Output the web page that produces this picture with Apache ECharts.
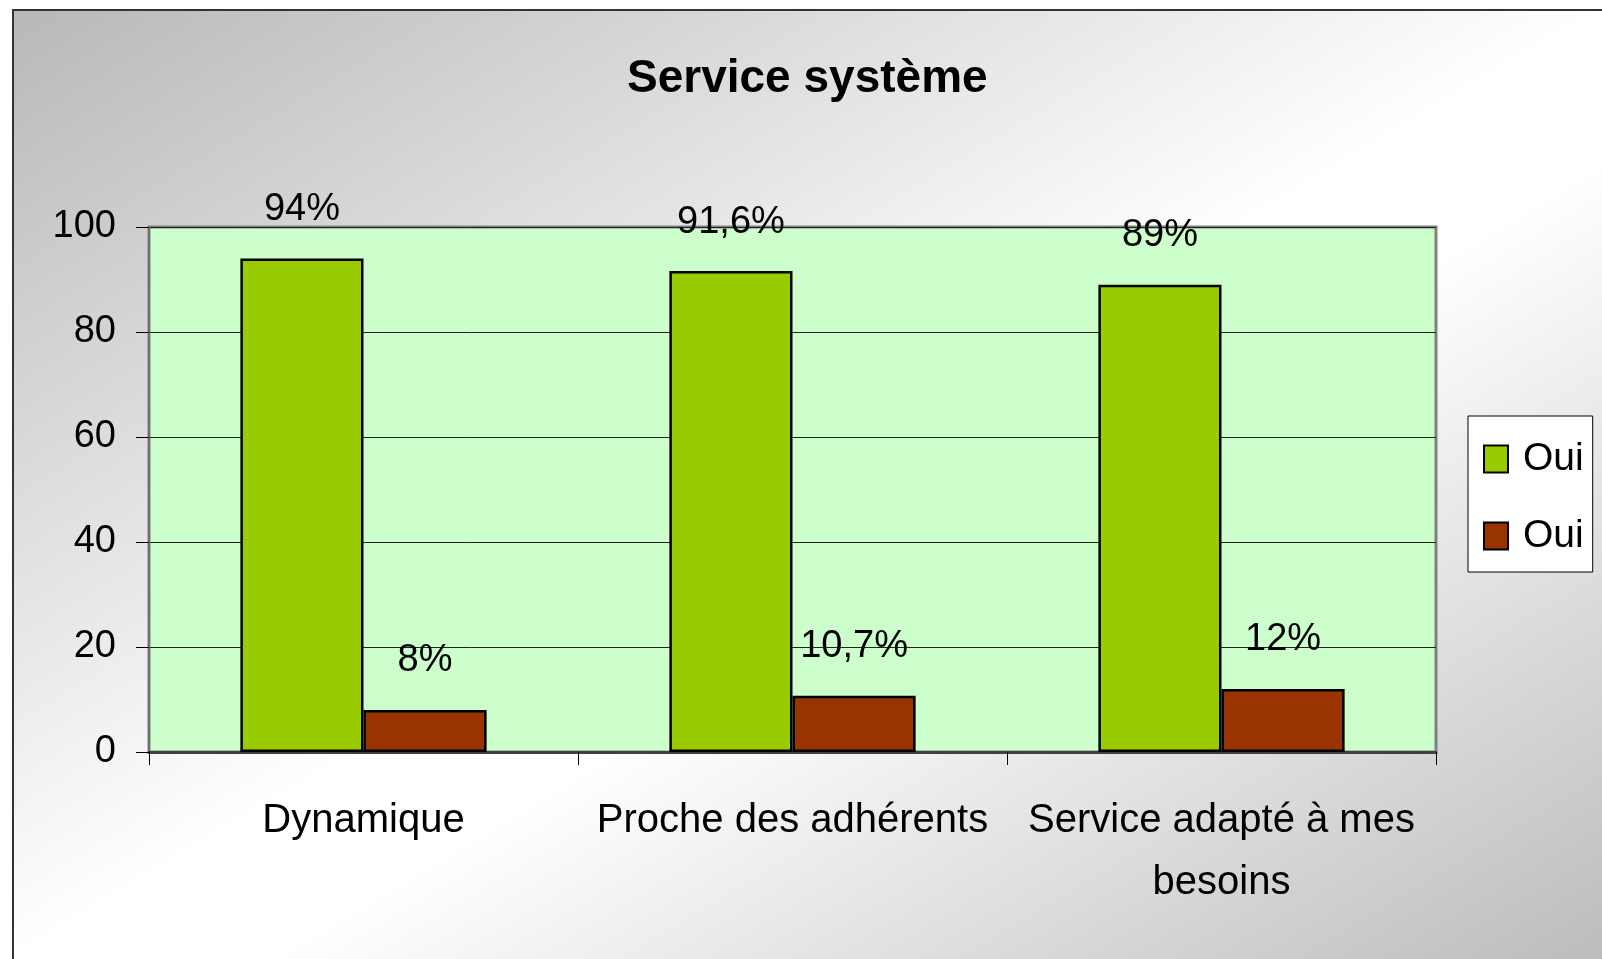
<!DOCTYPE html>
<html>
<head>
<meta charset="utf-8">
<script src="https://cdn.jsdelivr.net/npm/echarts@6/dist/echarts.min.js"></script>
<style>
html, body {
  margin: 0;
  padding: 0;
  background: #fff;
  width: 1602px;
  height: 959px;
  overflow: hidden;
}
#frame {
  position: absolute;
  left: 12px;
  top: 9px;
  right: 0;
  bottom: 0;
  border-left: 2px solid #333;
  border-top: 2px solid #333;
  background: linear-gradient(to bottom right, #b8b8b8 0%, #ffffff 50%, #ffffff 58%, #bcbcbc 100%);
}
#myChart {
  position: absolute;
  left: 0;
  top: 0;
  width: 1602px;
  height: 959px;
}
</style>
</head>
<body>
<div id="frame"></div>
<div id="myChart"></div>
<script>
// données
const categories = ['Dynamique', 'Proche des adhérents', 'Service adapté à mes\nbesoins']
const greenValues = [94, 91.6, 89]
const redValues = [8, 10.7, 12]
const yTicks = [0, 20, 40, 60, 80, 100]

const font = "'Liberation Sans', Arial, sans-serif"

function pct(p) {
  return String(p.value).replace('.', ',') + '%'
}

let myChart = echarts.init(document.getElementById('myChart'))
myChart.setOption({
  animation: false,
  textStyle: { fontFamily: font },
  title: {
    text: 'Service système',
    left: 627,
    top: 54,
    padding: 0,
    textStyle: { fontSize: 46, fontWeight: 'bold', color: '#000', fontFamily: font, lineHeight: 50 }
  },
  legend: {
    orient: 'vertical',
    left: 1468,
    top: 416,
    padding: [21, 9, 14, 15],
    itemGap: 33,
    itemWidth: 24,
    itemHeight: 27,
    icon: 'rect',
    backgroundColor: '#fff',
    borderColor: '#000',
    borderWidth: 1,
    formatter: name => name.trim(),
    textStyle: { fontSize: 39, lineHeight: 44, color: '#000', fontFamily: font, padding: [0, 0, 0, 10] }
  },
  grid: {
    left: 149,
    top: 227,
    right: 166,
    bottom: 207,
    show: true,
    backgroundColor: '#CCFFCC',
    borderColor: '#808080',
    borderWidth: 3
  },
  xAxis: {
    type: 'category',
    data: categories,
    axisLine: { lineStyle: { color: '#404040', width: 3 } },
    axisTick: { show: true, length: 13, alignWithLabel: false, lineStyle: { color: '#000' } },
    axisLabel: { fontSize: 40, lineHeight: 62, margin: 38, color: '#000', fontFamily: font, interval: 0 }
  },
  yAxis: {
    type: 'value',
    min: yTicks[0],
    max: yTicks[yTicks.length - 1],
    interval: 20,
    axisLine: { show: true, lineStyle: { color: '#707070', width: 2 } },
    axisTick: { show: true, length: 13, lineStyle: { color: '#000' } },
    axisLabel: { fontSize: 38, margin: 33, color: '#000', fontFamily: font },
    splitLine: { lineStyle: { color: '#222', width: 1 } }
  },
  series: [
    {
      name: 'Oui',
      type: 'bar',
      data: greenValues,
      barGap: '0%',
      barCategoryGap: '42.6%',
      itemStyle: { color: '#99CC00', borderColor: '#000', borderWidth: 2.5 },
      label: { show: true, position: 'top', distance: 29, fontSize: 38, lineHeight: 40, color: '#000', fontFamily: font, formatter: pct }
    },
    {
      name: 'Oui ',
      type: 'bar',
      data: redValues,
      itemStyle: { color: '#993300', borderColor: '#000', borderWidth: 2.5 },
      label: { show: true, position: 'top', distance: 29, fontSize: 38, lineHeight: 40, color: '#000', fontFamily: font, formatter: pct }
    }
  ]
})
</script>
</body>
</html>
